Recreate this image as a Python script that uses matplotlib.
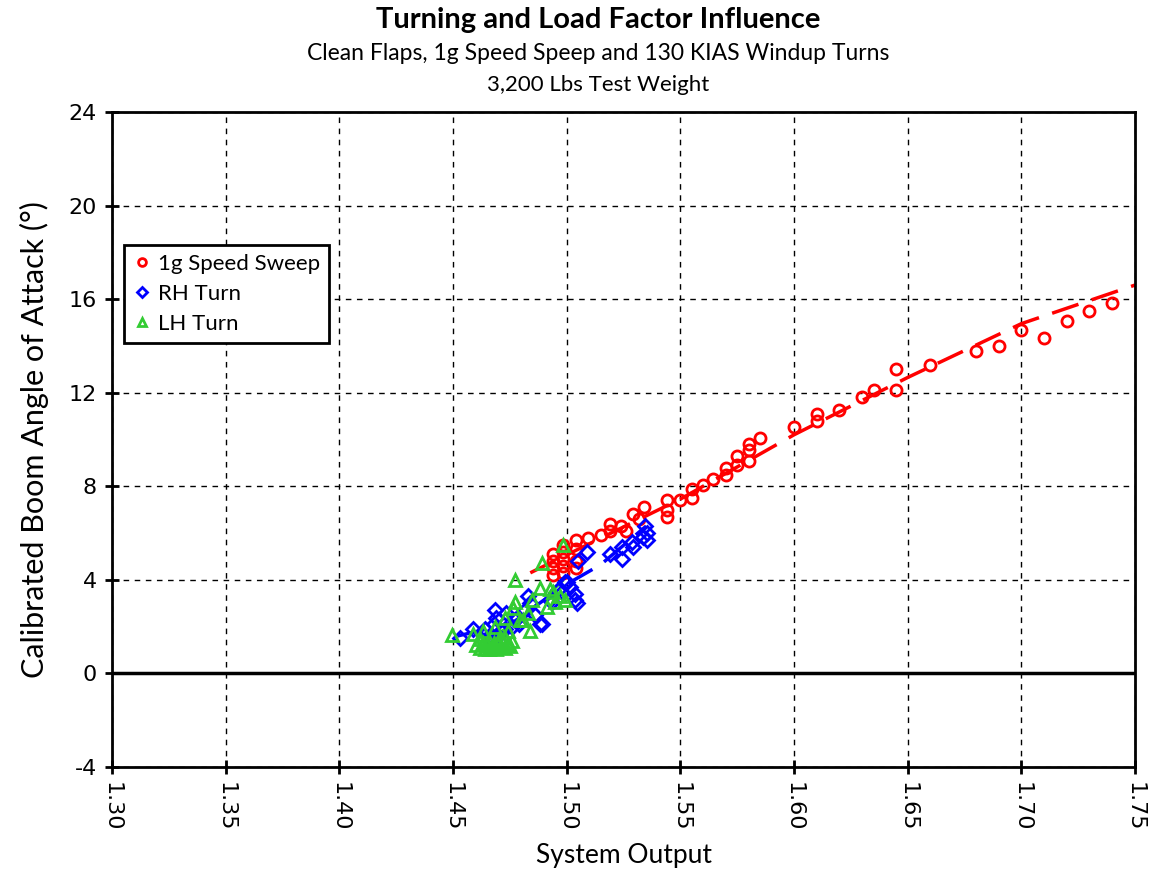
import numpy as np
import matplotlib
matplotlib.use("Agg")
import matplotlib.pyplot as plt

# --- data ---
sweep_x = [1.494, 1.494, 1.494, 1.494, 1.4985, 1.4985, 1.4985, 1.4985, 1.4985, 1.504, 1.504, 1.504, 1.504,
           1.5095, 1.515, 1.519, 1.519, 1.524, 1.526, 1.529, 1.532, 1.534,
           1.544, 1.544, 1.544, 1.550, 1.555, 1.555, 1.560, 1.5645, 1.570, 1.570, 1.575, 1.575,
           1.580, 1.580, 1.580, 1.585, 1.600, 1.610, 1.610, 1.620, 1.630, 1.635, 1.645, 1.645,
           1.660, 1.680, 1.690, 1.700, 1.710, 1.720, 1.730, 1.740]
sweep_y = [4.2, 4.5, 4.8, 5.1, 4.3, 4.6, 4.9, 5.2, 5.5, 4.5, 4.8, 5.3, 5.7,
           5.8, 5.9, 6.1, 6.4, 6.3, 6.1, 6.8, 6.6, 7.1,
           6.7, 7.0, 7.4, 7.4, 7.5, 7.9, 8.05, 8.3, 8.5, 8.8, 8.9, 9.3,
           9.1, 9.55, 9.8, 10.05, 10.55, 10.8, 11.1, 11.25, 11.8, 12.1, 12.1, 13.0,
           13.2, 13.8, 14.0, 14.7, 14.35, 15.05, 15.5, 15.85]

rh_x = [1.453, 1.459, 1.464, 1.466, 1.468, 1.4685, 1.469, 1.471, 1.4735, 1.476, 1.4773, 1.478, 1.4817,
        1.4831, 1.484, 1.4883, 1.489, 1.4927, 1.4934, 1.4963, 1.4978, 1.4993, 1.500, 1.5015,
        1.5037, 1.5037, 1.5044, 1.5051, 1.5088, 1.519, 1.5242, 1.5242, 1.5286, 1.5293,
        1.5337, 1.5344, 1.5352, 1.5352, 1.470, 1.473, 1.479, 1.486]
rh_y = [1.5, 1.9, 1.9, 1.6, 2.1, 2.7, 2.35, 1.8, 2.6, 2.0, 2.3, 2.35, 2.7,
        3.3, 3.0, 2.1, 2.1, 3.15, 3.05, 3.55, 3.5, 3.9, 3.9, 3.7,
        3.4, 3.15, 3.0, 4.8, 5.2, 5.1, 5.4, 4.9, 5.6, 5.4,
        5.85, 6.3, 6.0, 5.7, 1.6, 1.9, 2.1, 2.5]

lh_x = [1.4494, 1.459, 1.460, 1.462, 1.463, 1.464, 1.465, 1.466, 1.467, 1.468, 1.469, 1.470,
        1.471, 1.472, 1.473, 1.474, 1.475, 1.476, 1.462, 1.465, 1.468, 1.471, 1.474, 1.466,
        1.470, 1.473, 1.4633, 1.4685, 1.4729, 1.4743, 1.4765, 1.4773, 1.4773, 1.4795, 1.481,
        1.4831, 1.4839, 1.4846, 1.4883, 1.489, 1.4912, 1.4927, 1.4941, 1.4948, 1.4985, 1.4993, 1.497]
lh_y = [1.65, 1.7, 1.2, 1.1, 1.3, 1.05, 1.2, 1.4, 1.1, 1.3, 1.05, 1.25,
        1.15, 1.35, 1.1, 1.3, 1.15, 1.4, 1.45, 1.3, 1.15, 1.45, 1.2, 1.05,
        1.4, 1.5, 1.8, 2.0, 2.35, 1.8, 2.8, 3.05, 4.0, 2.3, 2.3,
        2.6, 1.8, 3.15, 3.65, 4.7, 2.85, 3.6, 3.5, 3.05, 5.5, 3.15, 3.3]

# trend lines as drawn in the reference
sweep_trend_x = [1.484, 1.530, 1.550, 1.600, 1.650, 1.700, 1.750]
sweep_trend_y = [4.3, 6.5, 7.45, 10.2, 12.65, 14.95, 16.6]
rh_trend_x = [1.452, 1.476, 1.498, 1.515, 1.535]
rh_trend_y = [1.6, 2.15, 3.7, 4.65, 6.3]
lh_trend_x = [1.4626, 1.480, 1.4985]
lh_trend_y = [1.3, 2.28, 4.0]

xticks = [1.30, 1.35, 1.40, 1.45, 1.50, 1.55, 1.60, 1.65, 1.70, 1.75]
yticks = [-4, 0, 4, 8, 12, 16, 20, 24]

sans = ["Lato", "DejaVu Sans"]
green = "#33cc33"

fig = plt.figure(figsize=(11.54, 8.84), dpi=100)
ax = fig.add_axes([0.0971, 0.1324, 0.8864, 0.7409])

ax.plot(sweep_trend_x, sweep_trend_y, color="red", lw=2.5, dashes=(8, 4), zorder=2)
ax.plot(rh_trend_x, rh_trend_y, color="blue", lw=2.5, dashes=(8, 4), zorder=2)
ax.plot(lh_trend_x, lh_trend_y, color=green, lw=2.5, dashes=(8, 4), zorder=2)

ax.plot(sweep_x, sweep_y, "o", ms=8, mfc="none", mec="red", mew=2, label="1g Speed Sweep", zorder=3)
ax.plot(rh_x, rh_y, "D", ms=7, mfc="none", mec="blue", mew=2, label="RH Turn", zorder=3)
ax.plot(lh_x, lh_y, "^", ms=9, mfc="none", mec=green, mew=2, label="LH Turn", zorder=3)

ax.axhline(0, color="black", lw=2.5, zorder=2)

ax.set_xlim(1.30, 1.75)
ax.set_ylim(-4, 24)
ax.set_xticks(xticks)
ax.set_xticklabels([f"{t:.2f}" for t in xticks], rotation=270, fontsize=16)
ax.set_yticks(yticks)
ax.set_yticklabels([str(t) for t in yticks], fontsize=16)
ax.tick_params(direction="inout", length=10, width=2, pad=6)
ax.grid(True, color="black", ls=(0, (4, 4)), lw=1)
for s in ax.spines.values():
    s.set_linewidth(2)

ax.set_xlabel("System Output", fontsize=19, family=sans, labelpad=8)
ax.set_ylabel("Calibrated Boom Angle of Attack (°)", fontsize=22, family=sans, labelpad=14)

fig.text(0.518, 0.977, "Turning and Load Factor Influence", ha="center", va="center",
         fontsize=21, fontweight="bold", family=sans)
fig.text(0.518, 0.939, "Clean Flaps, 1g Speed Speep and 130 KIAS Windup Turns", ha="center",
         va="center", fontsize=16.5, family=sans)
fig.text(0.518, 0.904, "3,200 Lbs Test Weight", ha="center", va="center", fontsize=16, family=sans)

leg = ax.legend(loc="upper left", bbox_to_anchor=(0.0117, 0.797), borderaxespad=0, fancybox=False,
                framealpha=1, edgecolor="black", handletextpad=0.35, handlelength=0.8,
                markerscale=0.7, borderpad=0.4, labelspacing=0.45,
                prop={"family": sans, "size": 16})
leg.get_frame().set_linewidth(2)

fig.savefig("out.png", dpi=100)
